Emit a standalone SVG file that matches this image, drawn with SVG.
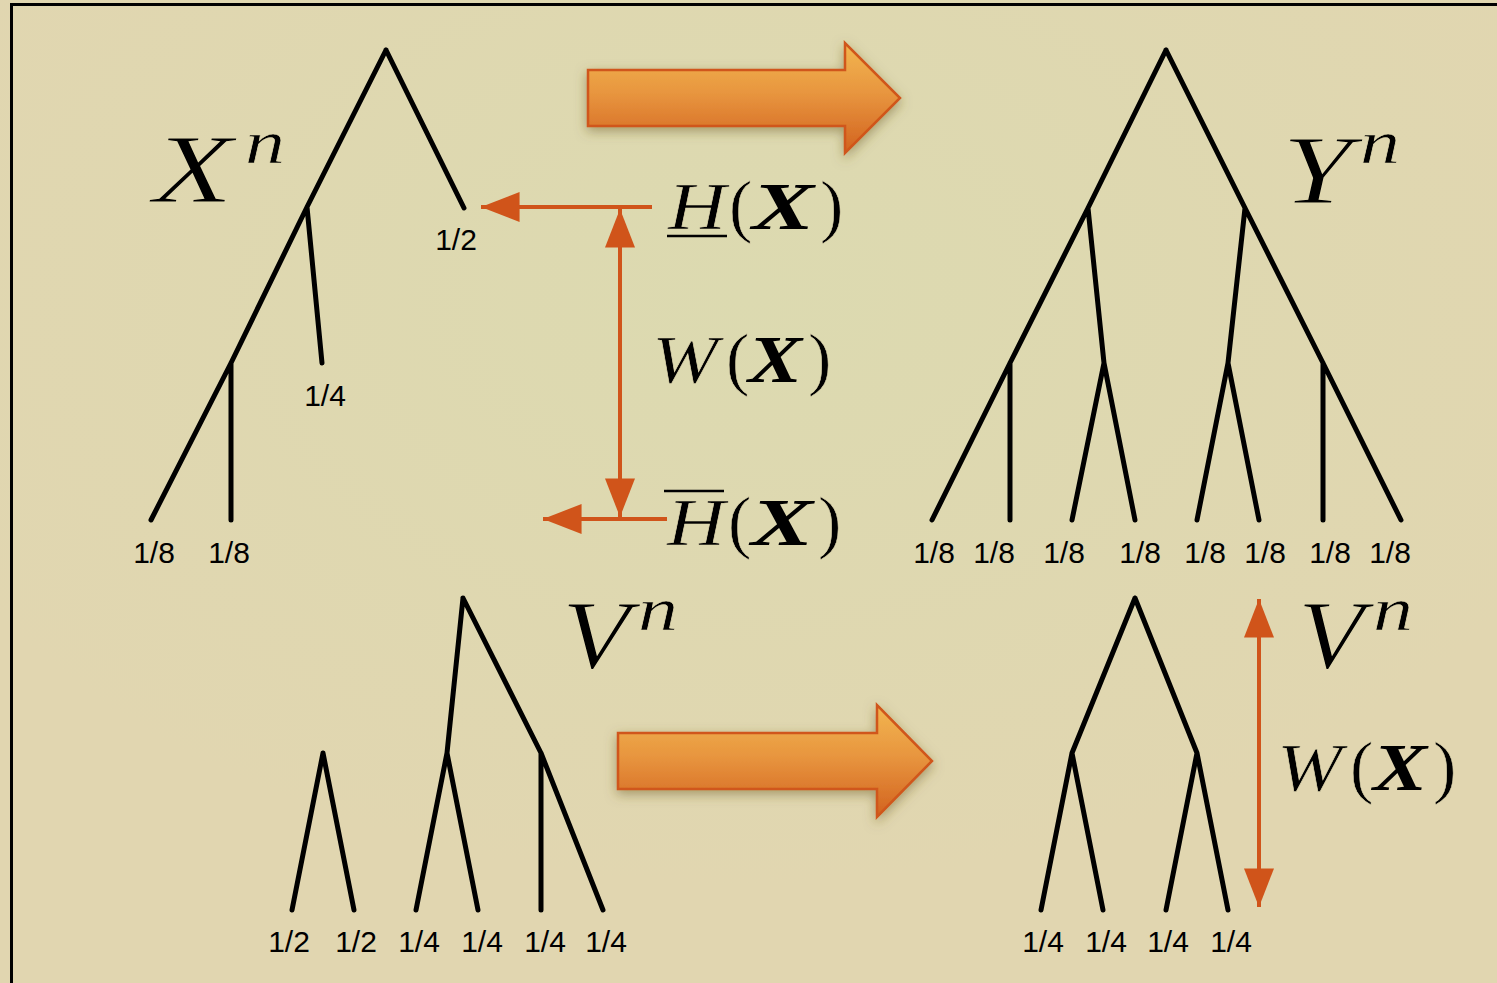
<svg xmlns="http://www.w3.org/2000/svg" width="1497" height="983" viewBox="0 0 1497 983">
  <style>
    .tree{fill:none;stroke:#000;stroke-width:5;stroke-linecap:round;stroke-linejoin:round}
    .lbl{font-family:"Liberation Sans",Arial,sans-serif;font-size:30px;fill:#000;text-anchor:middle}
    .m{font-family:"Liberation Serif","Times New Roman",serif;font-style:italic;fill:#000}
    .thin{stroke:#e0d8b0;stroke-width:1.2}
    .thin2{stroke:#e0d8b0;stroke-width:0.6}
    .b{font-weight:bold}
    .up{font-family:"Liberation Serif","Times New Roman",serif;font-style:normal;fill:#000;stroke:#e0d8b0;stroke-width:0.6}
    .con{fill:none;stroke:#d0541a;stroke-width:4}
    .big{fill:url(#ag);stroke:#d0561a;stroke-width:2.5;stroke-linejoin:miter;filter:url(#sh)}
  </style>
  <defs>
    <radialGradient id="bg" cx="0.5" cy="0.3" r="0.6">
      <stop offset="0" stop-color="#dcdab0"/>
      <stop offset="1" stop-color="#e1d6b0"/>
    </radialGradient>
    <linearGradient id="ag" x1="0" y1="0" x2="0" y2="1">
      <stop offset="0" stop-color="#f2b650"/>
      <stop offset="0.45" stop-color="#e8963f"/>
      <stop offset="1" stop-color="#d2621f"/>
    </linearGradient>
    <filter id="sh" x="-20%" y="-40%" width="140%" height="180%">
      <feDropShadow dx="0" dy="4" stdDeviation="6" flood-color="#6a5a20" flood-opacity="0.5"/>
    </filter>
    <marker id="ah" markerUnits="userSpaceOnUse" markerWidth="40" markerHeight="30" viewBox="0 0 36 28" refX="36" refY="14" orient="auto-start-reverse">
      <path d="M0,0 L36,14 L0,28 Z" fill="#d0541a"/>
    </marker>
  </defs>
  <rect x="0" y="0" width="1497" height="983" fill="url(#bg)"/>
  <rect x="11.5" y="4.5" width="1500" height="1000" fill="none" stroke="#000" stroke-width="3"/>

  <g id="arrow-top">
    <path class="big" d="M588,70 L845,70 L845,43 L900,98 L845,153 L845,126 L588,126 Z"/>
  </g>
  <g id="arrow-bottom">
    <path class="big" d="M618,733 L877,733 L877,705 L932,761 L877,817 L877,789 L618,789 Z"/>
  </g>

  <g id="tree-X">
    <path class="tree" d="M386,50 L464,208 M386,50 L307,207 L231,363 L151,520 M307,207 L322,363 M231,363 L231,520"/>
    <text class="lbl" x="456" y="250">1/2</text>
    <text class="lbl" x="325" y="406">1/4</text>
    <text class="lbl" x="154" y="563">1/8</text>
    <text class="lbl" x="229" y="563">1/8</text>
    <text class="m thin" x="153" y="202" font-size="97" textLength="80" lengthAdjust="spacingAndGlyphs">X</text>
    <text class="m thin2" x="245" y="163" font-size="62" textLength="40" lengthAdjust="spacingAndGlyphs">n</text>
  </g>

  <g id="tree-Y">
    <path class="tree" d="M1166,50 L1088,208 L1010,363 L932,520 M1166,50 L1245,208 L1323,363 L1401,520 M1010,363 L1010,520 M1088,208 L1104,363 L1072,520 M1104,363 L1135,520 M1245,208 L1228,363 L1197,520 M1228,363 L1259,520 M1323,363 L1323,520"/>
    <text class="lbl" x="934" y="563">1/8</text>
    <text class="lbl" x="994" y="563">1/8</text>
    <text class="lbl" x="1064" y="563">1/8</text>
    <text class="lbl" x="1140" y="563">1/8</text>
    <text class="lbl" x="1205" y="563">1/8</text>
    <text class="lbl" x="1265" y="563">1/8</text>
    <text class="lbl" x="1330" y="563">1/8</text>
    <text class="lbl" x="1390" y="563">1/8</text>
    <text class="m thin" x="1282" y="203" font-size="97" textLength="70" lengthAdjust="spacingAndGlyphs">Y</text>
    <text class="m thin2" x="1360" y="163" font-size="62" textLength="40" lengthAdjust="spacingAndGlyphs">n</text>
  </g>

  <g id="tree-V-left">
    <path class="tree" d="M323,753 L292,910 M323,753 L354,910 M463,598 L447,753 L416,910 M447,753 L478,910 M463,598 L541,753 L603,910 M541,753 L541,910"/>
    <text class="lbl" x="289" y="952">1/2</text>
    <text class="lbl" x="356" y="952">1/2</text>
    <text class="lbl" x="419" y="952">1/4</text>
    <text class="lbl" x="482" y="952">1/4</text>
    <text class="lbl" x="545" y="952">1/4</text>
    <text class="lbl" x="606" y="952">1/4</text>
    <text class="m thin" x="562" y="668" font-size="97" textLength="68" lengthAdjust="spacingAndGlyphs">V</text>
    <text class="m thin2" x="638" y="630" font-size="62" textLength="40" lengthAdjust="spacingAndGlyphs">n</text>
  </g>

  <g id="tree-V-right">
    <path class="tree" d="M1135,598 L1072,753 L1041,910 M1072,753 L1103,910 M1135,598 L1197,753 L1166,910 M1197,753 L1228,910"/>
    <text class="lbl" x="1043" y="952">1/4</text>
    <text class="lbl" x="1106" y="952">1/4</text>
    <text class="lbl" x="1168" y="952">1/4</text>
    <text class="lbl" x="1231" y="952">1/4</text>
    <text class="m thin" x="1298" y="668" font-size="97" textLength="66" lengthAdjust="spacingAndGlyphs">V</text>
    <text class="m thin2" x="1373" y="630" font-size="62" textLength="40" lengthAdjust="spacingAndGlyphs">n</text>
  </g>

  <g id="label-Hunder">
    <text class="m thin2" x="668" y="229" font-size="68" textLength="58" lengthAdjust="spacingAndGlyphs">H</text>
    <line x1="667" y1="236" x2="727" y2="236" stroke="#000" stroke-width="2.5"/>
    <text class="up" x="729" y="229" font-size="70">(</text>
    <text class="m b" x="752" y="229" font-size="68" textLength="62" lengthAdjust="spacingAndGlyphs">X</text>
    <text class="up" x="820" y="229" font-size="70">)</text>
  </g>

  <g id="label-W-mid">
    <text class="m thin2" x="652" y="382" font-size="68" textLength="66" lengthAdjust="spacingAndGlyphs">W</text>
    <text class="up" x="726" y="382" font-size="70">(</text>
    <text class="m b" x="748" y="382" font-size="68" textLength="54" lengthAdjust="spacingAndGlyphs">X</text>
    <text class="up" x="808" y="382" font-size="70">)</text>
  </g>

  <g id="label-Hover">
    <line x1="664" y1="491" x2="724" y2="491" stroke="#000" stroke-width="2.5"/>
    <text class="m thin2" x="667" y="545" font-size="68" textLength="58" lengthAdjust="spacingAndGlyphs">H</text>
    <text class="up" x="728" y="545" font-size="70">(</text>
    <text class="m b" x="751" y="545" font-size="68" textLength="62" lengthAdjust="spacingAndGlyphs">X</text>
    <text class="up" x="818" y="545" font-size="70">)</text>
  </g>

  <g id="label-W-right">
    <text class="m thin2" x="1277" y="790" font-size="68" textLength="65" lengthAdjust="spacingAndGlyphs">W</text>
    <text class="up" x="1350" y="790" font-size="70">(</text>
    <text class="m b" x="1373" y="790" font-size="68" textLength="54" lengthAdjust="spacingAndGlyphs">X</text>
    <text class="up" x="1433" y="790" font-size="70">)</text>
  </g>

  <g id="connectors">
    <line class="con" x1="652" y1="207" x2="481" y2="207" marker-end="url(#ah)"/>
    <line class="con" x1="620" y1="209" x2="620" y2="517" marker-start="url(#ah)" marker-end="url(#ah)"/>
    <line class="con" x1="667" y1="519" x2="543" y2="519" marker-end="url(#ah)"/>
    <line class="con" x1="1259" y1="599" x2="1259" y2="907" marker-start="url(#ah)" marker-end="url(#ah)"/>
  </g>
</svg>
